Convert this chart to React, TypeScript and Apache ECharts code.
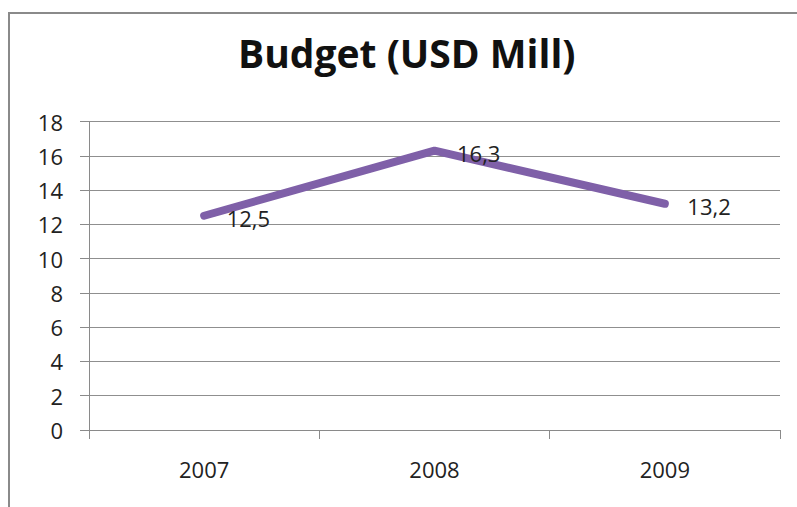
import React, { useEffect, useRef } from "react";
import * as echarts from "echarts";

const categories = ["2007", "2008", "2009"];
const budget = [12.5, 16.3, 13.2];
const yTicks = { min: 0, max: 18, interval: 2 };
const titleText = "Budget (USD Mill)";

export default function App() {
  const ref = useRef<HTMLDivElement>(null);
  useEffect(() => {
    if (!ref.current) return;
    const chart = echarts.init(ref.current, null, { renderer: "svg" });
    const font = "'Open Sans', 'Noto Sans', sans-serif";
    chart.setOption({
      animation: false,
      backgroundColor: "#ffffff",
      title: {
        text: titleText,
        left: 238,
        top: 33,
        padding: 0,
        textStyle: { fontFamily: font, fontWeight: "bold", fontSize: 39, color: "#111" },
      },
      graphic: [
        {
          type: "rect",
          shape: { x: 9, y: 13, width: 900, height: 600 },
          style: { fill: "none", stroke: "#8a8a8a", lineWidth: 2 },
          silent: true,
        },
      ],
      grid: { left: 89, right: 17, top: 121.5, bottom: 77 },
      xAxis: {
        type: "category",
        data: categories,
        boundaryGap: true,
        axisLine: { show: true, lineStyle: { color: "#8a8a8a", width: 1 } },
        axisTick: { show: true, length: 9, lineStyle: { color: "#8a8a8a" } },
        axisLabel: { fontFamily: font, fontSize: 22, color: "#222", margin: 28 },
        splitLine: { show: false },
      },
      yAxis: {
        type: "value",
        min: yTicks.min,
        max: yTicks.max,
        interval: yTicks.interval,
        axisLine: { show: true, lineStyle: { color: "#8a8a8a", width: 1 } },
        axisTick: { show: true, length: 9, lineStyle: { color: "#8a8a8a" } },
        axisLabel: { fontFamily: font, fontSize: 22, color: "#222", margin: 26 },
        splitLine: { show: true, lineStyle: { color: "#8f8f8f", width: 1 } },
      },
      series: [
        {
          type: "line",
          data: budget,
          symbol: "circle",
          symbolSize: 1,
          itemStyle: { color: "#7f60a8" },
          lineStyle: { color: "#7f60a8", width: 8, cap: "round", join: "round" },
          label: {
            show: true,
            position: "right",
            distance: 22,
            offset: [0, 2],
            fontFamily: font,
            fontSize: 22,
            color: "#222",
            formatter: (p: any) => String(p.value).replace(".", ","),
          },
        },
      ],
    });
    return () => chart.dispose();
  }, []);
  return (
    <div
      ref={ref}
      style={{ position: "fixed", left: 0, top: 0, width: 797, height: 507 }}
    />
  );
}
